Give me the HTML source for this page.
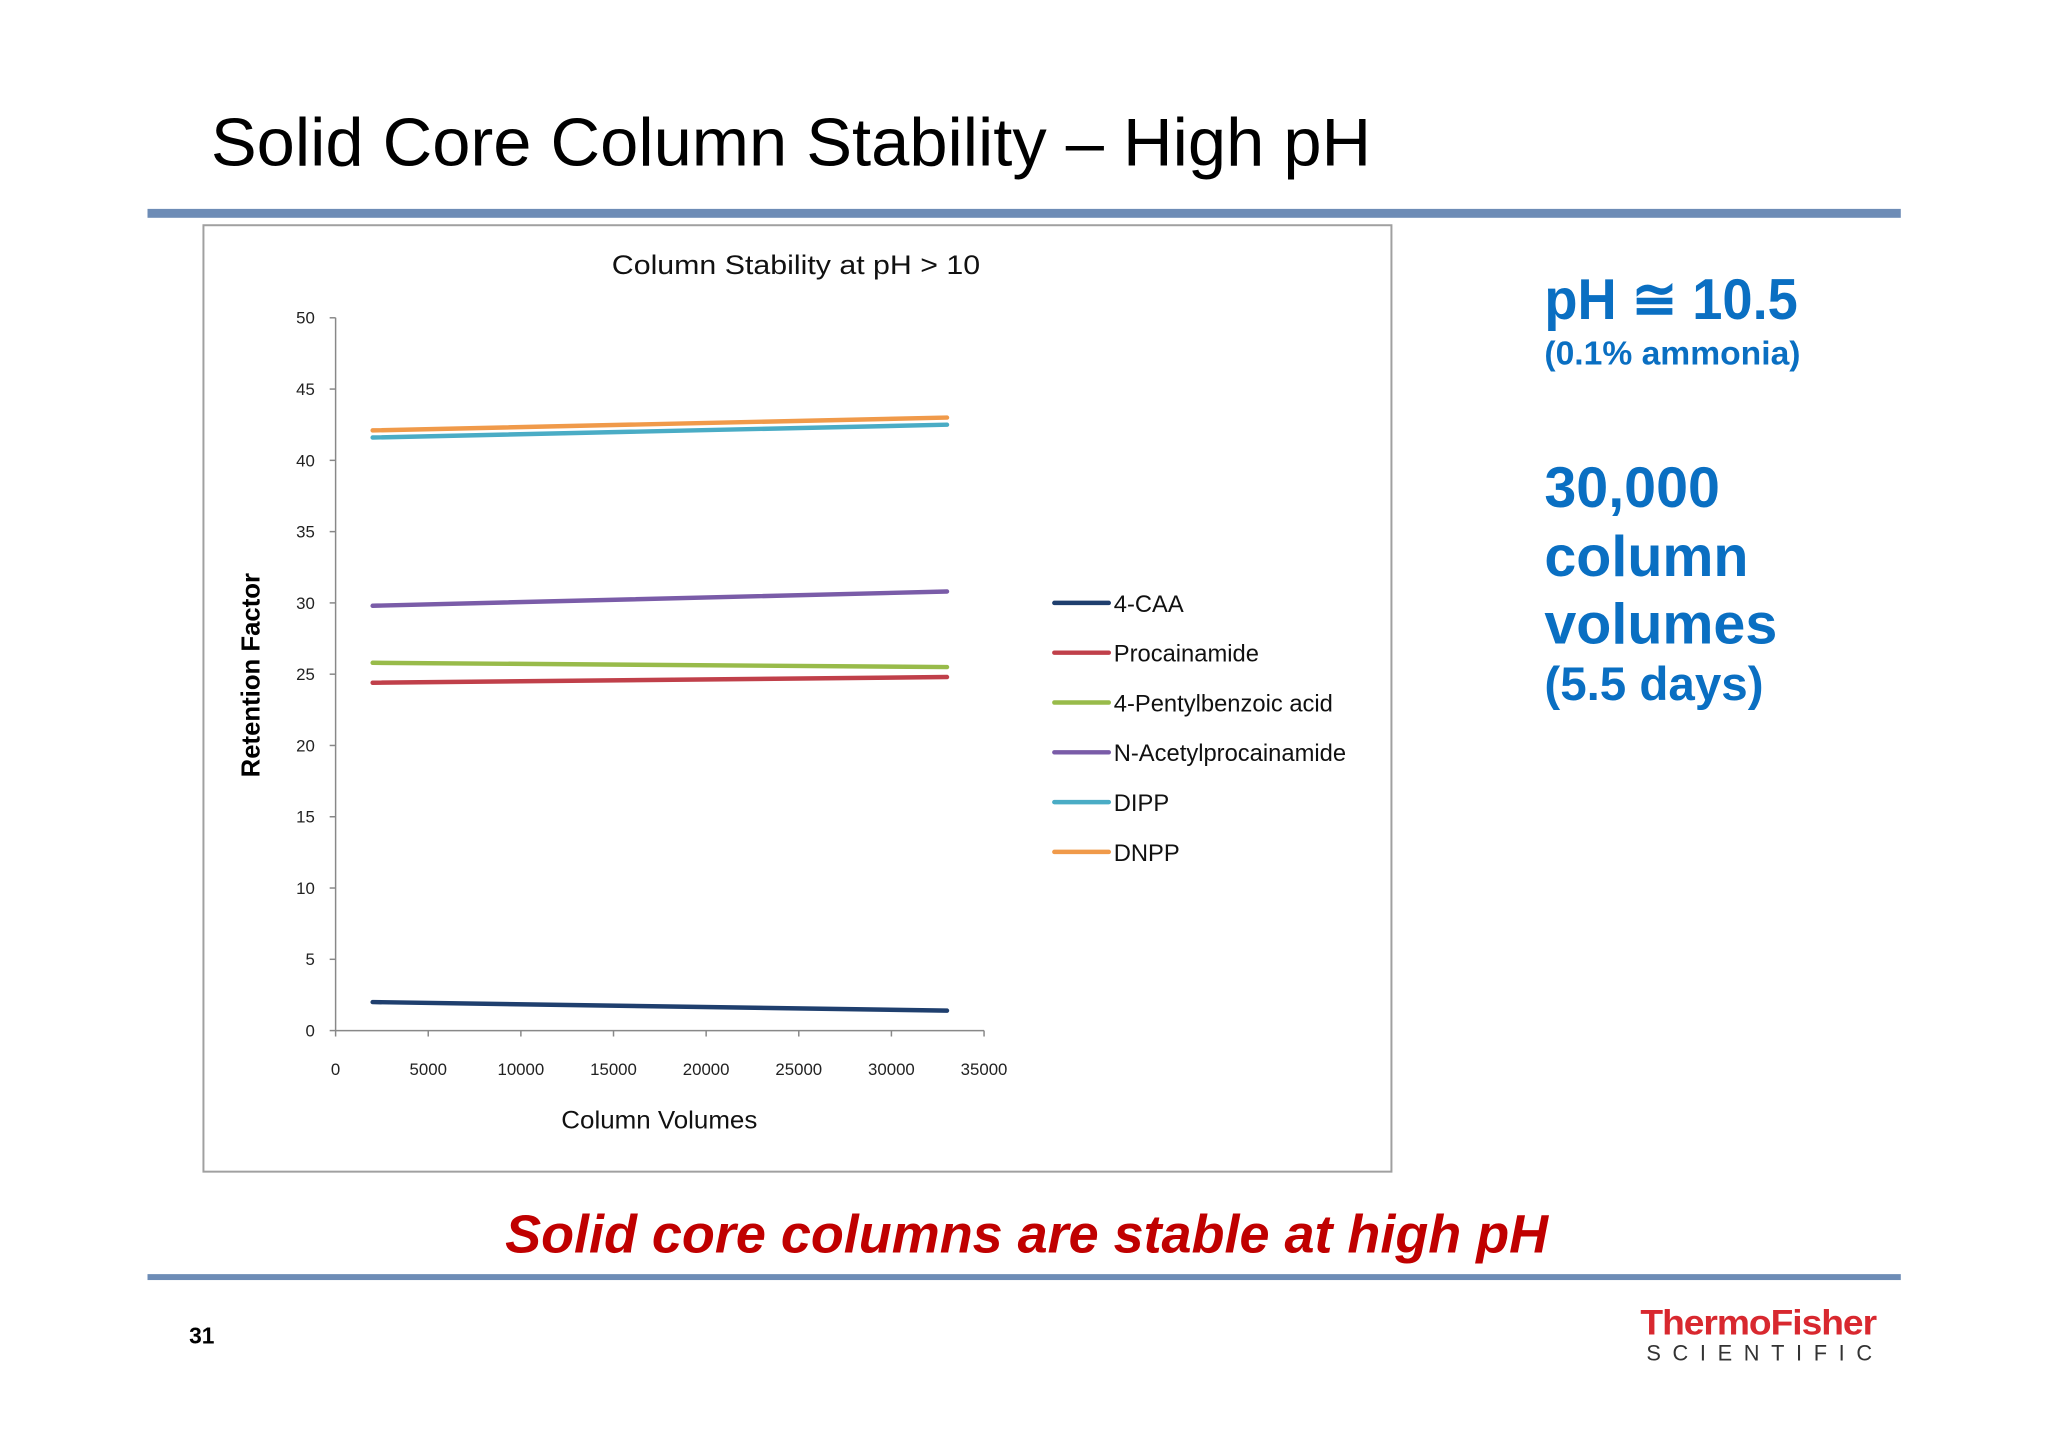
<!DOCTYPE html>
<html><head><meta charset="utf-8"><style>
html,body{margin:0;padding:0;background:#fff}
svg{display:block}
text{font-family:"Liberation Sans",sans-serif}
</style></head><body>
<svg id="chart" width="2048" height="1448" viewBox="0 0 2068.7 1462.6" preserveAspectRatio="xMinYMin meet" xmlns="http://www.w3.org/2000/svg">
<text x="213" y="167" font-size="68" fill="#000" textLength="1172" lengthAdjust="spacingAndGlyphs">Solid Core Column Stability – High pH</text>
<rect x="149" y="211" width="1771" height="9" fill="#6d8cb6"/>
<rect x="205.5" y="227.5" width="1200" height="956" fill="#fff" stroke="#a0a0a0" stroke-width="2"/>
<text x="804" y="277" font-size="27" text-anchor="middle" fill="#111" textLength="372" lengthAdjust="spacingAndGlyphs">Column Stability at pH &gt; 10</text>
<g id="axes"></g>
<g id="series"></g>
<g id="legend"></g>
<text transform="translate(262,682) rotate(-90)" font-size="26" font-weight="bold" text-anchor="middle" fill="#000">Retention Factor</text>
<text x="666" y="1140" font-size="25" text-anchor="middle" fill="#111" textLength="198" lengthAdjust="spacingAndGlyphs">Column Volumes</text>
<g fill="#0a6fc2" font-weight="bold">
<text x="1560" y="322" font-size="58" textLength="256" lengthAdjust="spacingAndGlyphs">pH ≅ 10.5</text>
<text x="1560" y="368" font-size="34">(0.1% ammonia)</text>
<text x="1560" y="512" font-size="58">30,000</text>
<text x="1560" y="582" font-size="58">column</text>
<text x="1560" y="650" font-size="58">volumes</text>
<text x="1560" y="707" font-size="48">(5.5 days)</text>
</g>
<text x="1037" y="1265" font-size="54.5" font-weight="bold" font-style="italic" text-anchor="middle" fill="#c00000">Solid core columns are stable at high pH</text>
<rect x="149" y="1287" width="1771" height="6" fill="#6d8cb6"/>
<text x="191" y="1357" font-size="23" font-weight="bold" fill="#000">31</text>
<text x="1657" y="1348" font-size="36" font-weight="bold" fill="#d8282f" textLength="238" lengthAdjust="spacingAndGlyphs" letter-spacing="-1">ThermoFisher</text>
<text x="1663" y="1374" font-size="22" fill="#333" textLength="228" lengthAdjust="spacing">SCIENTIFIC</text>
</svg>
<script>
const xTicks=[0,5000,10000,15000,20000,25000,30000,35000];
const yTicks=[0,5,10,15,20,25,30,35,40,45,50];
const seriesNames=["4-CAA","Procainamide","4-Pentylbenzoic acid","N-Acetylprocainamide","DIPP","DNPP"];
const xValues=[2000,33000];
const caa=[2.0,1.4];
const procainamide=[24.4,24.8];
const pentyl=[25.8,25.5];
const nacetyl=[29.8,30.8];
const dipp=[41.6,42.5];
const dnpp=[42.1,43.0];
const colors=["#1f3f6e","#c0404a","#98bb4a","#7a5ca8","#4aacc5","#f09a4a"];
const allSeries=[caa,procainamide,pentyl,nacetyl,dipp,dnpp];
const NS="http://www.w3.org/2000/svg";
const X0=339,X1=994,Y0=1041,Y1=321;
const sx=v=>X0+(v-0)/(35000)*(X1-X0);
const sy=v=>Y0-(v/50)*(Y0-Y1);
function mk(tag,attrs,parent){const e=document.createElementNS(NS,tag);for(const k in attrs)e.setAttribute(k,attrs[k]);parent.appendChild(e);return e;}
const axes=document.getElementById('axes');
let a=mk('line',{x1:X0,y1:Y1,x2:X0,y2:Y0,stroke:'#888','stroke-width':1.5},axes);


a=mk('line',{x1:X0,y1:Y0,x2:X1,y2:Y0,stroke:'#888','stroke-width':1.5},axes);


yTicks.forEach(t=>{const y=sy(t);
 mk('line',{x1:X0-6,y1:y,x2:X0,y2:y,stroke:'#888','stroke-width':1.5},axes);
 const tx=mk('text',{x:X0-21,y:y+6,'font-size':17,'text-anchor':'end',fill:'#222'},axes);
 
 
 tx.textContent=t;});
xTicks.forEach(t=>{const x=sx(t);
 mk('line',{x1:x,y1:Y0,x2:x,y2:Y0+6,stroke:'#888','stroke-width':1.5},axes);
 const tx=mk('text',{x:x,y:Y0+45,'font-size':17,'text-anchor':'middle',fill:'#222'},axes);
 
 
 tx.textContent=t;});
const sg=document.getElementById('series');
allSeries.forEach((vals,i)=>{
 const pts=vals.map((v,j)=>sx(xValues[j])+','+sy(v)).join(' ');
 const p=mk('polyline',{points:pts,fill:'none',stroke:colors[i],'stroke-width':4.5,'stroke-linecap':'round'},sg);
 
 
});
const lg=document.getElementById('legend');
seriesNames.forEach((n,i)=>{const y=609+i*50.3;
 const g=mk('g',{},lg);
 
 
 mk('line',{x1:1065,y1:y,x2:1120,y2:y,stroke:colors[i],'stroke-width':4.5,'stroke-linecap':'round'},g);
 const t=mk('text',{x:1125,y:y+9,'font-size':24,fill:'#111'},g);
 t.textContent=n;});
</script>
</body></html>
